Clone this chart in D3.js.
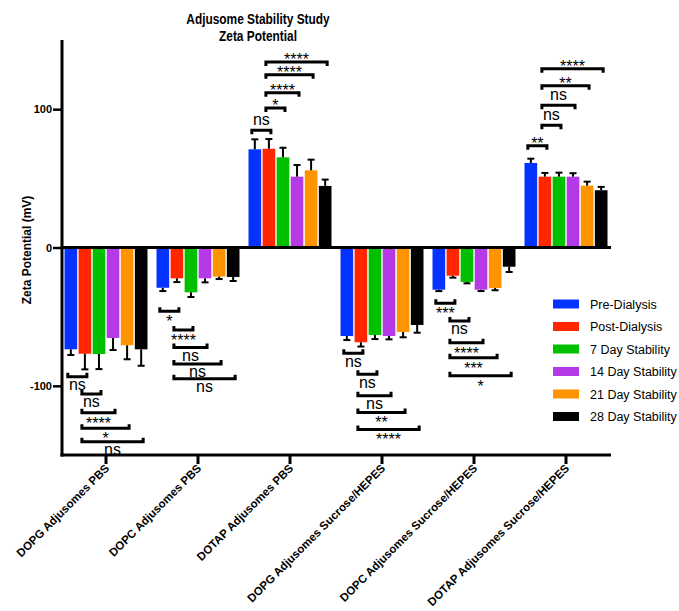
<!DOCTYPE html>
<html>
<head>
  <meta charset="utf-8">
  <title>Adjusome Stability Study</title>
  <style type="text/css">
    body { margin: 0; background: #fff; }
    svg text { font-family: "Liberation Sans", Arial, Helvetica, sans-serif; fill: #000; }
    .axis-line { stroke: #000; stroke-width: 3px; fill: none; }
    .tick-lbl { font-weight: bold; }
    .sig { stroke: #000; stroke-width: 3px; fill: none; }
  </style>
</head>
<body>
  <div id="chart"></div>

  <script type="text/javascript" src="https://cdnjs.cloudflare.com/ajax/libs/d3/7.8.5/d3.min.js"></script>
  <script type="text/javascript">
  // categories
  var groups = [
    'DOPG Adjusomes PBS',
    'DOPC Adjusomes PBS',
    'DOTAP Adjusomes PBS',
    'DOPG Adjusomes Sucrose/HEPES',
    'DOPC Adjusomes Sucrose/HEPES',
    'DOTAP Adjusomes Sucrose/HEPES'
  ];
  var series = ['Pre-Dialysis', 'Post-Dialysis', '7 Day Stability', '14 Day Stability', '21 Day Stability', '28 Day Stability'];
  var colors = ['#0433ff', '#ff2600', '#00c000', '#b43ae6', '#ff9300', '#000000'];

  // mean zeta potential (mV), one array per series, in group order
  var preDialysis  = [-73.6, -29.1, 71.0, -64.0, -30.5, 61.1];
  var postDialysis = [-76.8, -22.3, 71.4, -68.5, -20.4, 51.2];
  var day7         = [-77.0, -32.4, 65.2, -63.3, -24.9, 51.2];
  var day14        = [-65.4, -22.3, 51.2, -64.0, -30.5, 51.2];
  var day21        = [-70.7, -21.1, 55.8, -61.1, -29.3, 44.7];
  var day28        = [-73.6, -21.3, 44.5, -56.0, -13.9, 41.4];

  // error (mV)
  var preErr  = [4.1, 2.4, 7.2, 2.9, 1.0, 3.1];
  var postErr = [11.3, 2.7, 7.0, 3.1, 1.4, 2.7];
  var d7Err   = [10.9, 3.4, 6.9, 2.9, 1.0, 2.9];
  var d14Err  = [8.7, 2.9, 8.4, 2.4, 1.0, 2.5];
  var d21Err  = [10.1, 1.7, 7.7, 3.8, 1.6, 2.9];
  var d28Err  = [11.9, 2.9, 4.6, 5.6, 3.8, 2.4];

  var yTicks = [-100, 0, 100];

  // significance comparisons: series pairs, then per group the bracket level (mV) and label
  var sigPairs = [[0, 1], [1, 2], [1, 3], [1, 4], [1, 5]];
  var sigLevels = [
    [-93.4, -105.9, -119.4, -130.7, -140.4],
    [-46.1, -59.7, -72.2, -84.2, -94.9],
    [84.7, 100.9, 111.9, 124.9, 134.1],
    [-76.5, -91.7, -107.2, -119.2, -131.5],
    [-40.3, -53.1, -68.8, -79.7, -92.7],
    [73.6, 88.4, 102.8, 117.0, 129.3]
  ];
  var sigLabels = [
    ['ns', 'ns', '****', '*', 'ns'],
    ['*', '****', 'ns', 'ns', 'ns'],
    ['ns', '*', '****', '****', '****'],
    ['ns', 'ns', 'ns', '**', '****'],
    ['***', 'ns', '****', '***', '*'],
    ['**', 'ns', 'ns', '**', '****']
  ];

  var means = [preDialysis, postDialysis, day7, day14, day21, day28];
  var errs = [preErr, postErr, d7Err, d14Err, d21Err, d28Err];

  var cfg = {
    w: 679,
    h: 611,
    left: 62,
    right: 611,
    top: 40,
    bottom: 455
  };

  var svg = d3.select('#chart').append('svg')
    .attr('width', cfg.w)
    .attr('height', cfg.h);

  var ySc = d3.scaleLinear()
    .domain([-150, 150])
    .range([cfg.bottom, cfg.top]);

  var xSc = d3.scaleBand()
    .domain(groups)
    .range([60, 612]);

  var xSub = d3.scaleBand()
    .domain(d3.range(series.length))
    .range([0, 83])
    .paddingInner(0.1);

  var barCenter = function(g, s) {
    return xSc(groups[g]) + xSc.step() / 2 - 41.5 + xSub(s) + xSub.bandwidth() / 2;
  };

  // bars
  var rows = [];
  groups.forEach(function(g, gi) {
    series.forEach(function(s, si) {
      rows.push({ g: gi, s: si, v: means[si][gi], e: errs[si][gi] });
    });
  });

  var plot = svg.append('g');

  plot.selectAll('rect.bar')
    .data(rows)
    .enter()
    .append('rect')
    .classed('bar', true)
    .attr('x', function(d) { return barCenter(d.g, d.s) - xSub.bandwidth() / 2 })
    .attr('width', xSub.bandwidth())
    .attr('y', function(d) { return Math.min(ySc(d.v), ySc(0)) })
    .attr('height', function(d) { return Math.abs(ySc(d.v) - ySc(0)) })
    .style('fill', function(d) { return colors[d.s] });

  // error bars (away from zero only)
  var errEnd = function(d) { return d.v < 0 ? d.v - d.e : d.v + d.e };
  plot.selectAll('line.err')
    .data(rows)
    .enter()
    .append('line')
    .attr('x1', function(d) { return barCenter(d.g, d.s) })
    .attr('x2', function(d) { return barCenter(d.g, d.s) })
    .attr('y1', function(d) { return ySc(d.v) })
    .attr('y2', function(d) { return ySc(errEnd(d)) })
    .attr('stroke', '#000')
    .attr('stroke-width', 2);
  plot.selectAll('line.cap')
    .data(rows)
    .enter()
    .append('line')
    .attr('x1', function(d) { return barCenter(d.g, d.s) - 3.5 })
    .attr('x2', function(d) { return barCenter(d.g, d.s) + 3.5 })
    .attr('y1', function(d) { return ySc(errEnd(d)) })
    .attr('y2', function(d) { return ySc(errEnd(d)) })
    .attr('stroke', '#000')
    .attr('stroke-width', 2);

  // zero line
  svg.append('line')
    .classed('axis-line', true)
    .attr('x1', cfg.left).attr('x2', cfg.right)
    .attr('y1', ySc(0)).attr('y2', ySc(0));

  // y axis
  var yAxis = d3.axisLeft(ySc)
    .tickValues(yTicks)
    .tickSize(9)
    .tickPadding(1)
    .tickFormat(function(d) { return String(d) });
  var yg = svg.append('g')
    .attr('transform', 'translate(' + cfg.left + ',0)')
    .call(yAxis);
  yg.select('.domain').remove();
  yg.selectAll('.tick line').attr('stroke', '#000').attr('stroke-width', 2.5);
  yg.selectAll('.tick text').attr('class', 'tick-lbl').style('font-size', '11px').attr('fill', '#000');
  svg.append('line')
    .classed('axis-line', true)
    .attr('x1', cfg.left).attr('x2', cfg.left)
    .attr('y1', cfg.top).attr('y2', cfg.bottom + 1.5);

  // x axis
  var xAxis = d3.axisBottom(xSc).tickSize(9).tickFormat('');
  var xg = svg.append('g')
    .attr('transform', 'translate(0,' + cfg.bottom + ')')
    .call(xAxis);
  xg.select('.domain').remove();
  xg.selectAll('.tick line').attr('stroke', '#000').attr('stroke-width', 3);
  svg.append('line')
    .classed('axis-line', true)
    .attr('x1', cfg.left - 1.5).attr('x2', cfg.right)
    .attr('y1', cfg.bottom).attr('y2', cfg.bottom);

  svg.selectAll('text.xlbl')
    .data(groups)
    .enter()
    .append('text')
    .attr('class', 'xlbl tick-lbl')
    .attr('text-anchor', 'end')
    .style('font-size', '11.5px')
    .attr('transform', function(d) {
      return 'translate(' + (xSc(d) + xSc.step() / 2 + 4) + ',' + (cfg.bottom + 14) + ') rotate(-45)';
    })
    .text(function(d) { return d });

  // y label
  svg.append('text')
    .attr('class', 'tick-lbl')
    .attr('text-anchor', 'middle')
    .style('font-size', '12px')
    .attr('transform', 'translate(31,250) rotate(-90)')
    .text('Zeta Potential (mV)');

  // title (condensed look)
  var title = svg.append('text')
    .attr('text-anchor', 'middle')
    .attr('transform', 'translate(258,0) scale(0.85,1)')
    .style('font-weight', 'bold')
    .style('font-size', '14px');
  title.append('tspan').attr('x', 0).attr('y', 24).text('Adjusome Stability Study');
  title.append('tspan').attr('x', 0).attr('y', 41).text('Zeta Potential');

  // significance brackets
  var sigs = [];
  sigLevels.forEach(function(levels, gi) {
    levels.forEach(function(lv, k) {
      sigs.push({ g: gi, a: sigPairs[k][0], b: sigPairs[k][1], lv: lv, lbl: sigLabels[gi][k] });
    });
  });

  var sg = svg.selectAll('g.sig')
    .data(sigs)
    .enter()
    .append('g');

  sg.append('path')
    .classed('sig', true)
    .attr('d', function(d) {
      var x1 = barCenter(d.g, d.a) - 3;
      var x2 = barCenter(d.g, d.b) + 2;
      var y = ySc(d.lv);
      var leg = d.lv < 0 ? -4 : 4;
      return 'M' + x1 + ',' + (y + leg) + 'V' + y + 'H' + x2 + 'V' + (y + leg);
    });

  sg.append('text')
    .attr('text-anchor', 'middle')
    .style('font-size', '16px')
    .attr('fill', function(d) { return d.lbl == 'ns' ? '#000' : '#222' })
    .attr('x', function(d) { return (barCenter(d.g, d.a) - 3 + barCenter(d.g, d.b) + 2) / 2 })
    .attr('y', function(d) {
      var y = ySc(d.lv);
      var ns = d.lbl == 'ns';
      if (d.lv < 0) return y + (ns ? 13.5 : 16);
      return y + (ns ? -5.5 : 3.5);
    })
    .text(function(d) { return d.lbl });

  // legend
  var lg = svg.selectAll('g.legend')
    .data(series)
    .enter()
    .append('g')
    .attr('transform', function(d, i) { return 'translate(553,' + (304 + i * 22.5) + ')' });
  lg.append('rect')
    .attr('x', 0).attr('y', -4.5)
    .attr('width', 26).attr('height', 9)
    .style('fill', function(d, i) { return colors[i] });
  lg.append('text')
    .attr('x', 37).attr('y', 4.5)
    .style('font-size', '12.5px')
    .text(function(d) { return d });
  </script>
</body>
</html>
